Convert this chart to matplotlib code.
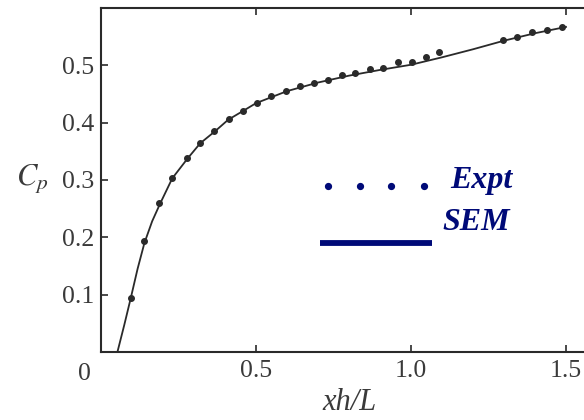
import matplotlib
matplotlib.use('Agg')
import matplotlib.pyplot as plt

# Expt (measured points)
expt_x = [0.096, 0.140, 0.187, 0.228, 0.276, 0.319, 0.366, 0.413, 0.459, 0.502,
          0.548, 0.596, 0.642, 0.687, 0.731, 0.776, 0.819, 0.868, 0.911, 0.959,
          1.002, 1.047, 1.091, 1.298, 1.343, 1.389, 1.438, 1.486]
expt_y = [0.094, 0.193, 0.260, 0.304, 0.339, 0.365, 0.386, 0.407, 0.421, 0.435,
          0.446, 0.455, 0.464, 0.470, 0.474, 0.483, 0.487, 0.493, 0.495, 0.505,
          0.506, 0.515, 0.523, 0.544, 0.549, 0.558, 0.562, 0.566]

# SEM curve
sem_x = [0.053, 0.075, 0.096, 0.118, 0.140, 0.165, 0.190, 0.230, 0.280, 0.320,
         0.370, 0.410, 0.460, 0.500, 0.600, 0.700, 0.800, 0.900, 1.000, 1.100,
         1.200, 1.300, 1.400, 1.500]
sem_y = [0.000, 0.047, 0.094, 0.145, 0.190, 0.228, 0.258, 0.303, 0.338, 0.364,
         0.386, 0.405, 0.421, 0.434, 0.455, 0.470, 0.482, 0.492, 0.501, 0.514,
         0.528, 0.543, 0.556, 0.567]

x_ticks = [0.5, 1.0, 1.5]
x_tick_labels = ['0.5', '1.0', '1.5']
y_ticks = [0.1, 0.2, 0.3, 0.4, 0.5]
y_tick_labels = ['0.1', '0.2', '0.3', '0.4', '0.5']

navy = '#000a78'
grey = '#2a2a2a'
serif = ['Liberation Serif', 'DejaVu Serif']

fig = plt.figure(figsize=(5.84, 4.20), dpi=100)
# axes spans past the right edge of the figure, like in the original
ax = fig.add_axes([101/584, 68/420, 496/584, 344/420])

ax.plot(sem_x, sem_y, color=grey, lw=1.3, zorder=2)
ax.plot(expt_x, expt_y, 'o', color=grey, ms=4, zorder=3)

ax.set_xlim(0, 1.6)
ax.set_ylim(0, 0.6)
ax.set_xticks(x_ticks)
ax.set_xticklabels(x_tick_labels, family=serif, fontsize=18.5, color='#3a3a3a')
ax.set_yticks(y_ticks)
ax.set_yticklabels(y_tick_labels, family=serif, fontsize=18.5, color='#3a3a3a')
ax.tick_params(direction='in', top=True, right=True, length=5, width=1.2,
               color=grey)
ax.tick_params(axis='x', pad=6)
ax.tick_params(axis='y', pad=5)
for sp in ax.spines.values():
    sp.set_linewidth(1.5)
    sp.set_color(grey)

# shared origin label
ax.text(-0.053, -0.02, '0', family=serif, fontsize=18.5, color='#3a3a3a',
        ha='center', va='top')

ax.set_xlabel('xh/L', family=serif, style='italic', fontsize=22, color='#3a3a3a',
              labelpad=4)
fig.text(16/584, 1 - 185/420, r'$C_p$', fontsize=22, color='#3a3a3a',
         ha='left', va='baseline', math_fontfamily='stix')

# hand drawn legend
ax.plot([0.732, 0.835, 0.937, 1.042], [0.290] * 4, 'o', color=navy, ms=4.2,
        clip_on=False)
ax.text(1.128, 0.286, 'Expt', family=serif, style='italic', weight='bold',
        fontsize=23, color=navy, ha='left', va='baseline')
ax.plot([0.706, 1.068], [0.1906, 0.1906], color=navy, lw=4.2,
        solid_capstyle='butt')
ax.text(1.100, 0.213, 'SEM', family=serif, style='italic', weight='bold',
        fontsize=23, color=navy, ha='left', va='baseline')

fig.savefig('out.png', dpi=100)
